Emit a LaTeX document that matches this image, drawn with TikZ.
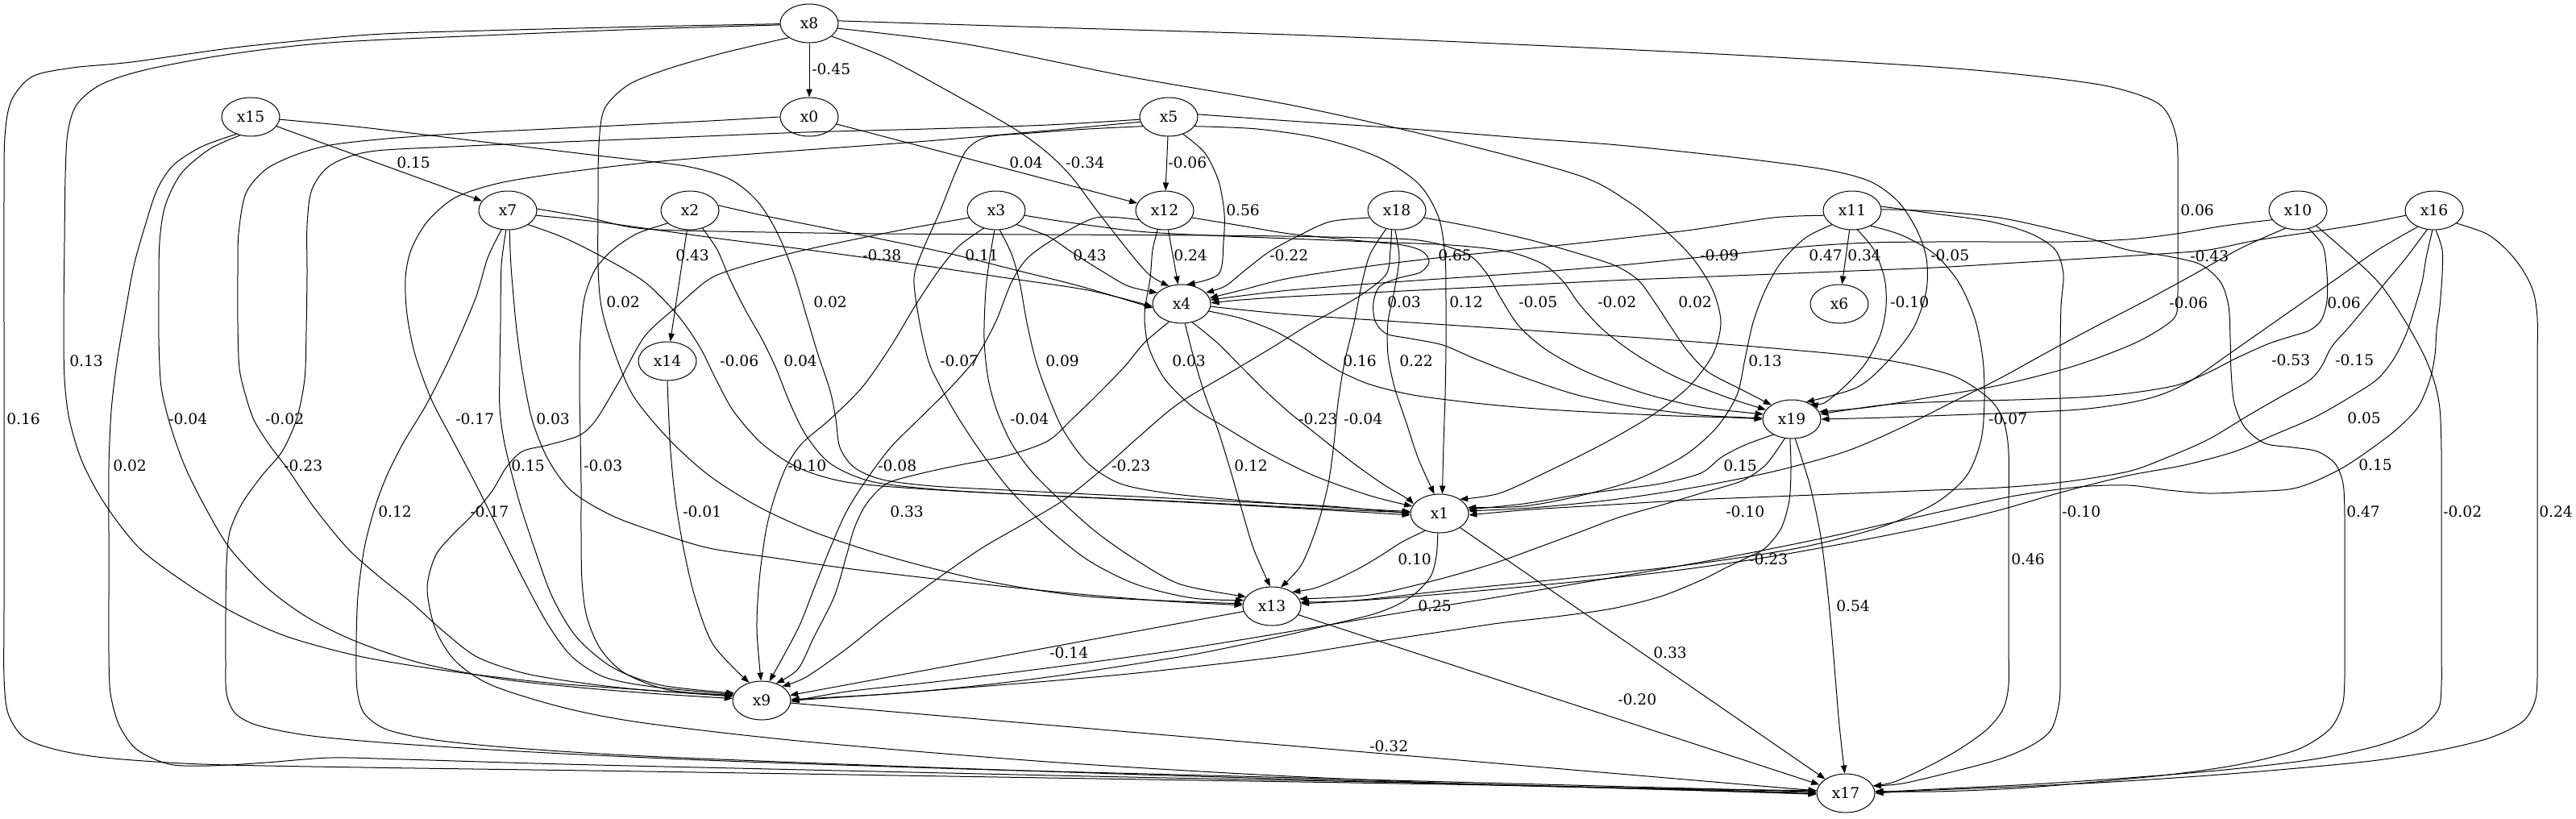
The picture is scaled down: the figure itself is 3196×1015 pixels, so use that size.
\documentclass[tikz,border=0pt]{standalone}
\usepackage{fontspec}
\setmainfont{DejaVu Serif}
\usetikzlibrary{shapes.geometric, arrows.meta}

\tikzset{
  var/.style={draw, ellipse, minimum width=54pt, minimum height=36pt, inner sep=0pt, line width=0.75pt, font=\fontsize{14}{16}\selectfont},
  edge/.style={->, line width=0.75pt},
  curve/.style={edge, smooth, tension=.5},
  wt/.style={anchor=west, inner sep=0pt, font=\fontsize{14}{16}\selectfont},
}

\begin{document}
\begin{tikzpicture}[x=0.75pt, y=-0.75pt, >={Triangle[length=7.5pt,width=5.5pt]}]
	\useasboundingbox (0,0) rectangle (3196,1015);
	% variables, one ellipse each
	\foreach \n/\x/\y in {x8/1004/29, x0/1004/145, x5/1450/145, x15/311/145,
						  x7/630/261, x2/856/261, x3/1236/261, x12/1445/261,
						  x18/1733/261, x11/2298/261, x10/2851/261, x16/3020/261,
						  x4/1466/377, x6/2282/377, x14/828/448, x19/2223/520,
						  x1/1786/637, x13/1578/752, x9/945/869, x17/2290/984} {
		\node[var] (\n) at (\x,\y) {\n};
	}

	% from x8
	\draw[edge] (x8) -- (x0); \node[wt] (w1) at (1007,86) {-0.45};
	\draw[curve] plot coordinates {(x8.181) (800,33) (600,38) (459,43) (300,58) (163,77) (90,84) (40,95) (14,125) (6,170) (5,250) (5,400) (5,600) (5,760) (5,840) (10,885) (30,915) (70,930) (130,940) (250,948) (450,952) (800,957) (1300,965) (1900,975) (x17.182)};
	\node[wt] (w2) at (8,520) {0.16};
	\draw[curve] plot coordinates {(x8.183) (800,36) (600,44) (408,53) (280,68) (179,87) (125,105) (95,130) (84,165) (81,220) (80,300) (79,400) (80,470) (86,520) (102,573) (130,625) (173,680) (230,723) (290,760) (357,790) (450,815) (561,833) (680,847) (800,856) (x9.172)};
	\node[wt] (w3) at (86,448) {0.13};
	\draw[curve] plot coordinates {(x8.215) (900,65) (830,85) (780,105) (750,135) (743,180) (742,250) (742,330) (746,380) (760,430) (785,490) (830,545) (880,590) (940,628) (1010,660) (1101,690) (1220,720) (1350,740) (x13.175)};
	\node[wt] (w4) at (752,375) {0.02};
	\draw[curve] plot coordinates {(x8.-30) (1100,72) (1180,115) (1259,160) (1300,190) (1330,220) (1360,260) (1395,305) (1425,340) (x4.125)};
	\node[wt] (w5) at (1322,202) {-0.34};
	\draw[curve] plot coordinates {(x8.-10) (1200,55) (1400,95) (1600,130) (1780,170) (1957,217) (2020,250) (2065,285) (2100,320) (2125,360) (2135,400) (2125,440) (2095,480) (2050,515) (1990,550) (1920,585) (1860,612) (x1.35)};
	\node[wt] (w6) at (2109,317) {-0.09};
	\draw[curve] plot coordinates {(x8.5) (1300,34) (1600,43) (1900,56) (2150,68) (2400,83) (2530,95) (2620,108) (2680,130) (2700,170) (2702,230) (2702,300) (2702,360) (2700,390) (2685,405) (2650,425) (2600,445) (2553,460) (2480,478) (2400,492) (2320,505) (x19.15)};
	\node[wt] (w7) at (2705,261) {0.06};

	% from x15
	\draw[edge] (x15) -- (x7); \node[wt] (w8) at (492,202) {0.15};
	\draw[curve] plot coordinates {(x15.230) (250,182) (215,205) (195,235) (180,280) (166,330) (155,390) (145,450) (138,510) (135,580) (135,660) (135,740) (135,810) (137,860) (148,900) (170,930) (210,948) (260,950) (330,946) (410,940) (500,942) (700,948) (1000,955) (1400,964) (1800,972) (x17.179)};
	\node[wt] (w9) at (140,578) {0.02};
	\draw[curve] plot coordinates {(x15.240) (260,185) (225,215) (205,255) (198,300) (197,360) (197,420) (200,480) (212,530) (230,580) (255,630) (285,680) (330,728) (380,765) (440,795) (520,822) (620,842) (720,853) (820,861) (x9.176)};
	\node[wt] (w10) at (209,520) {-0.04};
	\draw[curve] plot coordinates {(x15.-5) (450,158) (600,176) (750,194) (850,206) (905,222) (940,250) (965,290) (985,340) (1000,390) (1015,440) (1030,485) (1037,520) (1042,555) (1060,580) (1095,595) (1157,603) (1250,608) (1350,613) (1450,618) (1550,623) (1650,628) (x1.180)};
	\node[wt] (w11) at (1009,375) {0.02};

	% from x0
	\draw[edge] (x0) -- (x12); \node[wt] (w12) at (1252,202) {0.04};
	\draw[curve] plot coordinates {(x0.180) (880,150) (780,155) (680,160) (580,165) (480,172) (410,180) (367,192) (330,210) (305,240) (296,290) (295,340) (295,400) (297,457) (306,495) (316,523) (335,553) (357,582) (390,630) (431,680) (470,715) (510,747) (550,783) (592,815) (650,835) (720,847) (800,856) (x9.170)};
	\node[wt] (w13) at (329,520) {-0.02};

	% from x5
	\draw[edge] (x5) -- (x12); \node[wt] (w14) at (1449,202) {-0.06};
	\draw[curve] plot coordinates {(x5.-50) (1495,190) (1512,225) (1519,265) (1518,300) (1512,340) (x4.75)};
	\node[wt] (w15) at (1521,261) {0.56};
	\draw[curve] plot coordinates {(x5.185) (1300,155) (1150,160) (1000,164) (850,170) (700,176) (560,182) (459,188) (410,205) (387,235) (381,280) (381,340) (380,410) (378,470) (368,520) (350,560) (325,590) (300,625) (285,660) (281,700) (280,760) (280,820) (281,860) (292,885) (320,900) (380,912) (460,920) (560,927) (700,935) (900,944) (1200,954) (1500,962) (1800,970) (x17.177)};
	\node[wt] (w16) at (352,578) {-0.23};
	\draw[curve] plot coordinates {(x5.190) (1300,162) (1150,175) (1000,186) (880,195) (800,202) (700,214) (620,227) (565,245) (530,275) (510,310) (503,345) (505,390) (515,440) (535,495) (561,545) (590,600) (620,660) (650,720) (680,775) (710,815) (750,840) (810,852) (x9.168)};
	\node[wt] (w17) at (565,520) {-0.17};
	\draw[curve] plot coordinates {(x5.200) (1350,160) (1280,165) (1225,170) (1200,185) (1185,215) (1165,265) (1145,310) (1134,345) (1140,395) (1152,448) (1167,480) (1190,520) (1220,565) (1255,610) (1300,655) (1350,695) (1410,725) (1480,742) (x13.168)};
	\node[wt] (w18) at (1166,448) {-0.07};
	\draw[curve] plot coordinates {(x5.-20) (1560,160) (1640,172) (1710,195) (1760,228) (1785,270) (1793,320) (1794,375) (1794,430) (1793,490) (1791,550) (x1.82)};
	\node[wt] (w19) at (1798,375) {0.12};
	\draw[curve] plot coordinates {(x5.5) (1600,150) (1750,160) (1900,172) (2008,180) (2150,195) (2263,210) (2320,225) (2355,250) (2378,285) (2390,320) (2390,360) (2375,405) (2345,445) (2305,480) (x19.50)};
	\node[wt] (w20) at (2395,317) {-0.05};

	% from x7
	\draw[curve] plot coordinates {(x7.-10) (740,275) (820,286) (900,297) (980,307) (1062,318) (1150,330) (1250,345) (1350,360) (x4.185)};
	\node[wt] (w21) at (1070,317) {-0.38};
	\draw[curve] plot coordinates {(x7.-95) (622,330) (621,400) (620,460) (620,507) (625,545) (633,580) (645,625) (663,680) (685,740) (715,790) (760,828) (820,850) (x9.165)};
	\node[wt] (w22) at (634,578) {0.15};
	\draw[curve] plot coordinates {(x7.-85) (634,330) (640,400) (648,460) (660,520) (680,570) (710,610) (760,640) (820,662) (880,680) (960,692) (1050,705) (1150,717) (1250,728) (1350,738) (1450,746) (x13.178)};
	\node[wt] (w23) at (665,520) {0.03};
	\draw[curve] plot coordinates {(x7.-108) (605,320) (590,370) (560,440) (530,500) (500,550) (480,590) (465,630) (452,680) (444,740) (442,800) (443,855) (452,885) (480,905) (540,918) (640,928) (800,938) (1100,950) (1450,962) (1800,972) (x17.181)};
	\node[wt] (w24) at (469,635) {0.12};
	\draw[curve] plot coordinates {(x7.-35) (700,295) (750,320) (800,350) (840,390) (868,430) (888,470) (910,510) (945,550) (990,580) (1050,598) (1150,607) (1300,615) (1450,622) (1600,630) (x1.183)};
	\node[wt] (w25) at (893,448) {-0.06};
	\draw[curve] plot coordinates {(x7.3) (730,270) (800,284) (950,288) (1100,290) (1300,291) (1500,292) (1650,294) (1760,298) (1820,315) (1845,340) (1862,370) (1885,405) (1920,435) (1970,462) (2040,488) (2110,505) (x19.170)};
	\node[wt] (w26) at (1884,375) {-0.05};

	% from x2
	\draw[edge] (x2) -- (x14); \node[wt] (w27) at (838,317) {0.43};
	\draw[curve] plot coordinates {(x2.10) (950,268) (1020,282) (1100,298) (1180,315) (1260,335) (1340,355) (x4.188)};
	\node[wt] (w28) at (1197,317) {0.11};
	\draw[curve] plot coordinates {(x2.-150) (790,290) (760,310) (738,335) (725,370) (720,420) (719,480) (720,540) (721,600) (721,660) (722,720) (728,765) (745,805) (775,835) (830,856) (x9.170)};
	\node[wt] (w29) at (724,578) {-0.03};
	\draw[curve] plot coordinates {(x2.-55) (890,310) (905,345) (925,385) (945,420) (962,455) (980,500) (1000,540) (1030,575) (1080,597) (1160,607) (1280,614) (1420,620) (1560,627) (1680,633) (x1.178)};
	\node[wt] (w30) at (972,448) {0.04};

	% from x3
	\draw[curve] plot coordinates {(x3.-35) (1300,293) (1330,313) (1365,335) (1400,355) (x4.155)};
	\node[wt] (w31) at (1331,317) {0.43};
	\draw[curve] plot coordinates {(x3.-80) (1255,315) (1265,350) (1274,400) (1285,447) (1300,490) (1320,535) (1350,575) (1390,600) (1450,612) (1530,620) (1620,627) (1700,632) (x1.176)};
	\node[wt] (w32) at (1297,448) {0.09};
	\draw[curve] plot coordinates {(x3.-95) (1228,320) (1223,360) (1221,420) (1226,470) (1237,510) (1255,550) (1280,585) (1315,620) (1360,660) (1410,695) (1465,725) (x13.160)};
	\node[wt] (w33) at (1253,520) {-0.04};
	\draw[curve] plot coordinates {(x3.195) (1130,283) (1060,297) (990,312) (930,328) (882,345) (840,380) (800,417) (770,470) (740,520) (719,540) (680,552) (648,560) (628,580) (610,610) (585,640) (560,665) (540,690) (530,730) (540,780) (565,820) (610,850) (700,878) (800,897) (1000,920) (1300,945) (1600,963) (1900,975) (x17.175)};
	\node[wt] (w34) at (583,635) {-0.17};
	\draw[curve] plot coordinates {(x3.-125) (1190,305) (1165,335) (1135,380) (1105,430) (1070,480) (1030,520) (995,550) (975,580) (960,620) (950,660) (942,720) (939,780) (x9.92)};
	\node[wt] (w35) at (977,578) {-0.10};
	\draw[curve] plot coordinates {(x3.-10) (1320,275) (1412,287) (1500,292) (1600,296) (1700,300) (1800,304) (1870,312) (1915,328) (1940,350) (1960,378) (1990,410) (2030,440) (2080,468) (2140,492) (x19.160)};
	\node[wt] (w36) at (1982,375) {-0.02};

	% from x12
	\draw[edge] (x12) -- (x4); \node[wt] (w37) at (1456,317) {0.24};
	\draw[curve] plot coordinates {(x12.-110) (1430,310) (1427,345) (1420,390) (1425,430) (1445,470) (1480,505) (1520,530) (1570,560) (1630,590) (1700,615) (x1.165)};
	\node[wt] (w38) at (1454,448) {0.03};
	\draw[curve] plot coordinates {(x12.200) (1360,270) (1310,295) (1275,320) (1255,350) (1235,400) (1210,445) (1180,480) (1140,520) (1105,555) (1075,595) (1050,635) (1030,680) (1010,730) (990,780) (x9.68)};
	\node[wt] (w39) at (1089,578) {-0.08};
	\draw[curve] plot coordinates {(x12.-15) (1540,280) (1600,290) (1680,298) (1740,304) (1765,312) (1773,325) (1762,338) (1735,345) (1712,355) (1704,375) (1706,398) (1720,414) (1750,420) (1790,428) (1830,445) (1890,468) (1957,490) (2030,505) (2110,515) (x19.178)};
	\node[wt] (w40) at (1721,375) {0.03};

	% from x18
	\draw[curve] plot coordinates {(x18.195) (1650,275) (1610,293) (1575,312) (1545,335) (1520,355) (x4.25)};
	\node[wt] (w41) at (1575,317) {-0.22};
	\draw[curve] plot coordinates {(x18.-95) (1736,320) (1730,360) (1722,400) (1722,440) (1730,480) (1745,525) (1760,570) (x1.105)};
	\node[wt] (w42) at (1736,448) {0.22};
	\draw[curve] plot coordinates {(x18.-120) (1700,315) (1690,350) (1680,400) (1668,450) (1660,500) (1655,550) (1648,600) (1635,650) (1615,700) (x13.65)};
	\node[wt] (w43) at (1667,520) {-0.04};
	\draw[curve] plot coordinates {(x18.-15) (1830,282) (1900,298) (1960,315) (2005,330) (2033,348) (2055,378) (2074,407) (2095,437) (2120,462) (2160,483) (x19.145)};
	\node[wt] (w44) at (2082,375) {0.02};
	\draw[curve] plot coordinates {(x18.-105) (1725,310) (1720,340) (1690,365) (1656,385) (1620,405) (1580,430) (1530,460) (1463,500) (1415,540) (1370,580) (1320,620) (1270,650) (1218,680) (1160,720) (1100,765) (1050,805) (1000,840) (x9.35)};
	\node[wt] (w45) at (1379,578) {-0.23};

	% from x11
	\draw[curve] plot coordinates {(x11.190) (2200,270) (2100,285) (2000,297) (1900,308) (1800,318) (1700,330) (1600,345) (1540,360) (x4.12)};
	\node[wt] (w46) at (1784,317) {0.65};
	\draw[edge] (x11) -- (x6); \node[wt] (w47) at (2292,317) {0.34};
	\draw[curve] plot coordinates {(x11.-75) (2325,310) (2338,345) (2340,380) (2333,415) (2315,450) (2290,478) (2263,500) (x19.40)};
	\node[wt] (w48) at (2345,375) {-0.10};
	\draw[curve] plot coordinates {(x11.215) (2240,295) (2210,325) (2190,360) (2175,400) (2165,445) (2155,490) (2130,530) (2090,565) (2030,595) (1960,615) (1890,628) (x1.12)};
	\node[wt] (w49) at (2169,448) {0.13};
	\draw[curve] plot coordinates {(x11.-40) (2360,292) (2400,315) (2430,350) (2450,395) (2460,445) (2462,495) (2458,545) (2440,590) (2400,625) (2330,655) (2230,680) (2100,700) (1950,717) (1800,732) (1680,745) (x13.8)};
	\node[wt] (w50) at (2467,520) {-0.07};
	\draw[curve] plot coordinates {(x11.8) (2400,265) (2470,275) (2520,290) (2550,310) (2560,340) (2557,380) (2556,440) (2556,520) (2556,600) (2556,680) (2556,760) (2556,830) (2555,870) (2545,905) (2520,925) (2480,942) (2420,958) (2360,972) (x17.15)};
	\node[wt] (w51) at (2558,635) {-0.10};
	\draw[curve] plot coordinates {(x11.2) (2400,262) (2480,270) (2550,285) (2600,298) (2640,310) (2690,318) (2730,328) (2755,350) (2765,380) (2767,420) (2768,460) (2772,500) (2785,530) (2810,550) (2845,555) (2875,560) (2897,575) (2907,600) (2909,640) (2909,700) (2909,780) (2909,840) (2906,875) (2890,905) (2850,930) (2780,948) (2700,960) (2600,970) (2500,978) (2400,982) (x17.4)};
	\node[wt] (w52) at (2911,635) {0.47};

	% from x10
	\draw[curve] plot coordinates {(x10.200) (2760,280) (2700,290) (2640,297) (2560,300) (2480,300) (2400,300) (2320,301) (2250,305) (2180,312) (2100,320) (2000,330) (1900,338) (1800,345) (1700,352) (1600,360) (1540,367) (x4.8)};
	\node[wt] (w53) at (2244,317) {0.47};
	\draw[curve] plot coordinates {(x10.-60) (2882,305) (2887,340) (2887,373) (2880,397) (2865,410) (2840,418) (2813,427) (2773,445) (2740,462) (2700,478) (2640,488) (2580,493) (2500,496) (2420,498) (2340,502) (x19.10)};
	\node[wt] (w54) at (2887,376) {0.06};
	\draw[curve] plot coordinates {(x10.235) (2780,308) (2717,343) (2660,374) (2600,405) (2540,437) (2480,470) (2420,500) (2360,530) (2290,560) (2200,585) (2100,605) (2000,620) (1900,630) (x1.5)};
	\node[wt] (w55) at (2818,447) {-0.53};
	\draw[curve] plot coordinates {(x10.-40) (2923,323) (2955,355) (2985,400) (3007,440) (3020,473) (3027,507) (3029,560) (3029,640) (3029,720) (3029,800) (3029,850) (3025,880) (3000,905) (2950,925) (2870,942) (2760,955) (2640,965) (2520,973) (2420,978) (x17.2)};
	\node[wt] (w56) at (3031,635) {-0.02};

	% from x16
	\draw[curve] plot coordinates {(x16.190) (2930,278) (2873,287) (2800,298) (2740,310) (2680,315) (2600,320) (2500,326) (2400,332) (2300,336) (2200,340) (2100,344) (2000,348) (1900,353) (1800,358) (1700,363) (1600,368) (1540,372) (x4.2)};
	\node[wt] (w57) at (2717,318) {-0.43};
	\draw[curve] plot coordinates {(x16.225) (2950,310) (2900,345) (2850,380) (2800,415) (2760,443) (2717,473) (2680,490) (2640,500) (2580,508) (2500,512) (2420,515) (2340,518) (x19.0)};
	\node[wt] (w58) at (2691,376) {-0.06};
	\draw[curve] plot coordinates {(x16.-110) (2985,320) (2960,350) (2940,375) (2915,405) (2893,430) (2880,455) (2865,472) (2830,492) (2790,515) (2740,545) (2690,567) (2640,585) (2560,598) (2480,605) (2400,608) (2300,612) (2200,616) (2100,620) (2000,626) (1900,632) (x1.-3)};
	\node[wt] (w59) at (2897,447) {-0.15};
	\draw[curve] plot coordinates {(x16.-95) (3010,320) (3005,350) (2995,385) (2985,415) (2970,445) (2950,470) (2920,490) (2873,517) (2820,540) (2773,560) (2710,577) (2640,590) (2560,610) (2480,633) (2400,652) (2300,672) (2200,690) (2100,705) (2000,717) (1900,727) (1800,736) (1700,744) (x13.5)};
	\node[wt] (w60) at (2912,519) {0.05};
	\draw[curve] plot coordinates {(x16.-85) (3030,310) (3030,340) (3027,380) (3023,410) (3021,440) (3015,470) (3000,505) (2973,533) (2940,558) (2907,580) (2870,598) (2840,607) (2790,610) (2740,612) (2690,608) (2640,602) (2580,604) (2500,615) (2420,632) (2340,650) (2250,670) (2150,690) (2050,708) (1950,725) (1850,742) (1750,758) (1650,775) (1550,792) (1450,808) (1350,822) (1250,835) (1150,847) (1050,858) (x9.-2)};
	\node[wt] (w61) at (2926,577) {0.15};
	\draw[curve] plot coordinates {(x16.-30) (3085,290) (3110,310) (3130,335) (3143,362) (3148,395) (3148,450) (3148,530) (3148,610) (3148,690) (3148,770) (3148,840) (3145,870) (3130,895) (3090,915) (3030,930) (2950,943) (2850,953) (2740,962) (2620,970) (2500,976) (2400,980) (x17.0)};
	\node[wt] (w62) at (3150,635) {0.24};

	% from x4
	\draw[curve] plot coordinates {(x4.-15) (1540,395) (1580,410) (1615,430) (1640,447) (1665,462) (1700,477) (1753,490) (1830,500) (1906,507) (1990,512) (2080,516) (2150,518) (x19.180)};
	\node[wt] (w63) at (1666,448) {0.16};
	\draw[curve] plot coordinates {(x4.-60) (1510,425) (1540,455) (1570,485) (1600,512) (1635,540) (1677,573) (1715,600) (1745,618) (x1.160)};
	\node[wt] (w64) at (1611,520) {-0.23};
	\draw[curve] plot coordinates {(x4.-80) (1480,440) (1495,490) (1510,530) (1525,578) (1540,630) (1555,680) (x13.95)};
	\node[wt] (w65) at (1531,578) {0.12};
	\draw[curve] plot coordinates {(x4.-125) (1420,425) (1395,455) (1361,490) (1330,520) (1300,547) (1250,565) (1190,577) (1140,588) (1100,600) (1075,625) (1060,655) (1050,690) (1035,740) (1010,790) (990,830) (x9.50)};
	\node[wt] (w66) at (1104,635) {0.33};
	\draw[curve] plot coordinates {(x4.-5) (1600,390) (1750,400) (1900,410) (2050,420) (2200,432) (2330,445) (2420,465) (2466,493) (2485,520) (2492,560) (2492,640) (2492,720) (2492,800) (2492,850) (2485,880) (2465,905) (2430,930) (2390,952) (2350,970) (x17.15)};
	\node[wt] (w67) at (2495,694) {0.46};

	% from x14, x19, x1, x13, x9
	\draw[curve] plot coordinates {(x14.-90) (829,500) (832,560) (838,620) (848,680) (862,740) (885,800) (x9.125)};
	\node[wt] (w68) at (847,635) {-0.01};
	\draw[curve] plot coordinates {(x19.220) (2165,552) (2136,567) (2110,587) (2060,600) (2008,607) (1950,615) (1890,625) (x1.8)};
	\node[wt] (w69) at (2138,578) {0.15};
	\draw[curve] plot coordinates {(x19.250) (2200,565) (2187,580) (2160,597) (2110,612) (2060,627) (2008,642) (1960,660) (1906,680) (1850,700) (1780,720) (1700,738) (x13.15)};
	\node[wt] (w70) at (2141,635) {-0.10};
	\draw[curve] plot coordinates {(x19.265) (2222,580) (2220,620) (2210,655) (2190,680) (2171,690) (2140,705) (2110,720) (2060,740) (2000,755) (1930,765) (1860,773) (1800,782) (1700,797) (1600,813) (1500,825) (1400,836) (1300,845) (1200,853) (1100,861) (x9.0)};
	\node[wt] (w71) at (2170,694) {-0.23};
	\draw[curve] plot coordinates {(x19.-80) (2245,600) (2258,660) (2266,720) (2272,780) (2277,840) (2282,900) (x17.93)};
	\node[wt] (w72) at (2278,752) {0.54};
	\draw[curve] plot coordinates {(x1.230) (1740,672) (1715,688) (1690,703) (1660,718) (1630,730) (x13.35)};
	\node[wt] (w73) at (1734,694) {0.10};
	\draw[curve] plot coordinates {(x1.-95) (1782,690) (1775,715) (1755,737) (1730,752) (1700,763) (1650,775) (1600,787) (1540,800) (1480,812) (1400,825) (1300,840) (1200,852) (1100,861) (x9.2)};
	\node[wt] (w74) at (1759,752) {0.25};
	\draw[edge] (x1) -- (x17); \node[wt] (w75) at (2051,810) {0.33};
	\draw[edge] (x13) -- (x9); \node[wt] (w76) at (1302,810) {-0.14};
	\draw[edge] (x13) -- (x17); \node[wt] (w77) at (2007,868) {-0.20};
	\draw[edge] (x9) -- (x17); \node[wt] (w78) at (1699,926) {-0.32};
\end{tikzpicture}
\end{document}
